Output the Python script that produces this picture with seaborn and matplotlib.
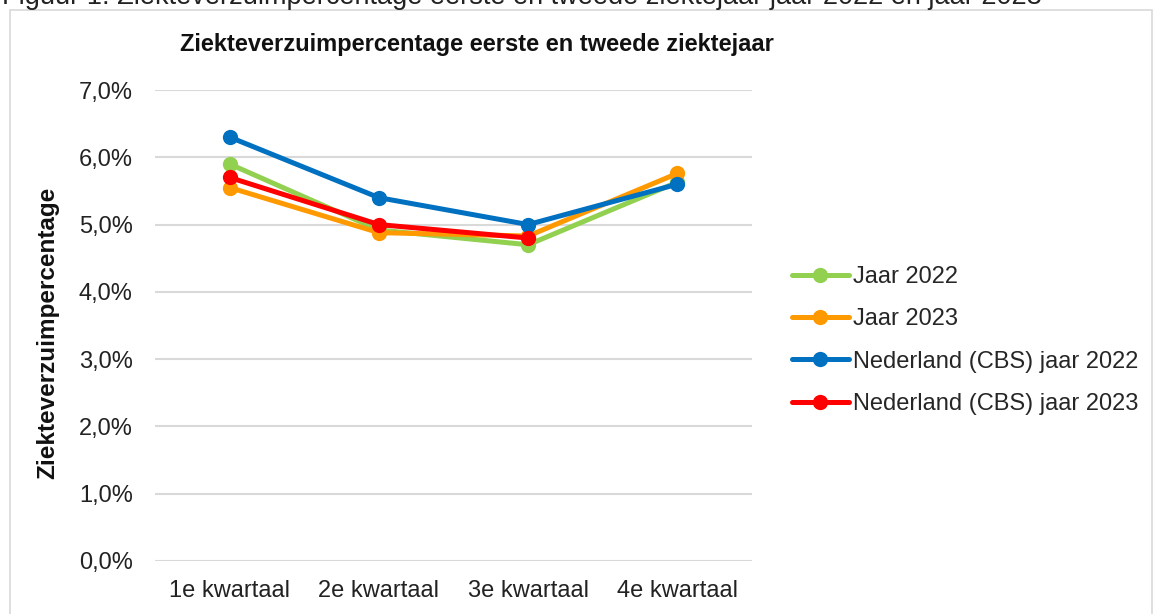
import matplotlib
matplotlib.use("Agg")
import matplotlib.pyplot as plt
import seaborn as sns
import pandas as pd
import numpy as np
from matplotlib.patches import Rectangle
from matplotlib.lines import Line2D

categories = ["1e kwartaal", "2e kwartaal", "3e kwartaal", "4e kwartaal"]
jaar_2022 = [5.90, 4.92, 4.70, 5.63]
jaar_2023 = [5.55, 4.88, 4.83, 5.76]
cbs_2022 = [6.30, 5.40, 5.00, 5.60]
cbs_2023 = [5.70, 5.00, 4.80, np.nan]
series_names = ["Jaar 2022", "Jaar 2023", "Nederland (CBS) jaar 2022", "Nederland (CBS) jaar 2023"]
colors = ["#92D050", "#FF9900", "#0070C0", "#FF0000"]
yticks = [0, 1, 2, 3, 4, 5, 6, 7]
ytick_labels = ["0,0%", "1,0%", "2,0%", "3,0%", "4,0%", "5,0%", "6,0%", "7,0%"]

rows = []
for name, vals in zip(series_names, [jaar_2022, jaar_2023, cbs_2022, cbs_2023]):
    for i, v in enumerate(vals):
        rows.append({"serie": name, "x": i, "waarde": v})
df = pd.DataFrame(rows)

sns.set_theme(style="white")
plt.rcParams["font.family"] = ["Liberation Sans", "DejaVu Sans"]

fig = plt.figure(figsize=(11.58, 6.14), dpi=100)
ax = fig.add_axes([155/1158, 1-561/614, (752-155)/1158, (561-90)/614])

for y in yticks:
    ax.axhline(y, color="#d9d9d9", lw=1.5, zorder=0)

for name, col in zip(series_names, colors):
    sub = df[df["serie"] == name].dropna()
    sns.lineplot(data=sub, x="x", y="waarde", ax=ax, color=col, lw=3.6,
                 marker="o", markersize=11, markeredgewidth=0, legend=False)

ax.set_xlim(-0.5, 3.5)
ax.set_ylim(0, 7)
ax.set_xticks(range(4))
ax.set_xticklabels(categories, fontsize=17, color="#222222")
ax.set_yticks(yticks)
ax.set_yticklabels(ytick_labels, fontsize=17, color="#222222")
ax.tick_params(axis="both", length=0)
ax.tick_params(axis="x", pad=14)
ax.tick_params(axis="y", pad=16)
ax.set_xlabel("")
ax.set_ylabel("")
for s in ax.spines.values():
    s.set_visible(False)
ax.grid(False)

fig.text(48/1158, 1-333/614, "Ziekteverzuimpercentage", rotation=90, ha="center", va="center",
         fontsize=17.5, fontweight="bold", color="#111111")
fig.text(477/1158, 1-45/614, "Ziekteverzuimpercentage eerste en tweede ziektejaar",
         ha="center", va="center", fontsize=17, fontweight="bold", color="#111111")
fig.text(2/1158, 1 + 3/614, "Figuur 1: Ziekteverzuimpercentage eerste en tweede ziektejaar jaar 2022 en jaar 2023",
         ha="left", va="center", fontsize=19.5, color="#222222")

fig.patches.append(Rectangle((10/1158, -0.02), (1152-10)/1158, 1.02-10/614, transform=fig.transFigure,
                             fill=False, edgecolor="#d9d9d9", lw=1.2))

handles = [Line2D([0], [0], color=c, lw=3.6, marker="o", markersize=11, markeredgewidth=0) for c in colors]
fig.legend(handles, series_names, loc="upper left", bbox_to_anchor=(792/1158, 1-266/614),
           frameon=False, fontsize=17, handlelength=2.4, handletextpad=0.17,
           labelspacing=0.86, borderpad=0, borderaxespad=0)

fig.savefig("out.png", dpi=100)
